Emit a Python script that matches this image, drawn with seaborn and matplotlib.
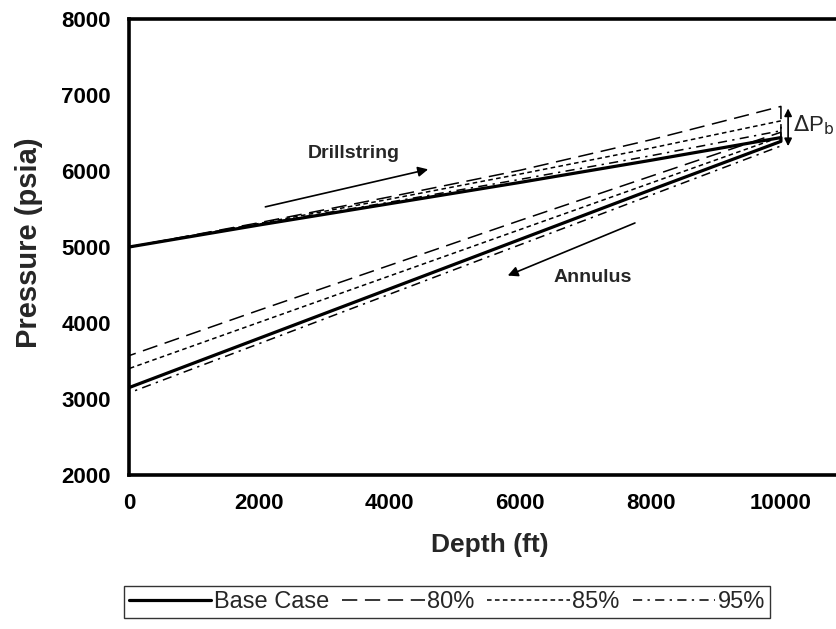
import numpy as np
import pandas as pd
import matplotlib
matplotlib.use("Agg")
import matplotlib.pyplot as plt
import seaborn as sns

# depth stations (ft), drillstring goes down, annulus comes back up
depth = [0, 2000, 4000, 6000, 8000, 10000]

base_drill = [5000, 5290, 5570, 5850, 6140, 6440]
base_ann = [3150, 3800, 4450, 5100, 5750, 6390]
p80_drill = [5000, 5320, 5660, 6010, 6410, 6850]
p80_ann = [3570, 4170, 4760, 5350, 5930, 6510]
p85_drill = [5000, 5310, 5630, 5960, 6300, 6660]
p85_ann = [3400, 4010, 4620, 5230, 5840, 6450]
p95_drill = [5000, 5300, 5590, 5890, 6200, 6530]
p95_ann = [3080, 3730, 4380, 5030, 5680, 6330]

cases = ["Base Case", "80%", "85%", "95%"]
drill = [base_drill, p80_drill, p85_drill, p95_drill]
ann = [base_ann, p80_ann, p85_ann, p95_ann]

rows = []
for case, d, a in zip(cases, drill, ann):
    path_x = depth + depth[::-1]
    path_y = d + a[::-1]
    for i, (x, y) in enumerate(zip(path_x, path_y)):
        rows.append({"case": case, "step": i, "Depth (ft)": x, "Pressure (psia)": y})
df = pd.DataFrame(rows)

sns.set_style("white")
plt.rcParams["font.family"] = ["Liberation Sans", "DejaVu Sans"]

fig = plt.figure(figsize=(8.37, 6.29), dpi=100)
ax = fig.add_axes([129 / 837, 1 - 475 / 629, 1 - 129 / 837, (475 - 19) / 629])

styles = {
    "Base Case": dict(ls="-", lw=2.3),
    "80%": dict(ls=(0, (10, 5)), lw=1.1),
    "85%": dict(ls=(0, (3, 2.2)), lw=1.1),
    "95%": dict(ls=(0, (6, 3.5, 1.5, 3.5)), lw=1.1),
}
for case in cases:
    sub = df[df["case"] == case]
    sns.lineplot(data=sub, x="Depth (ft)", y="Pressure (psia)", sort=False,
                 estimator=None, color="black", ax=ax, label=case,
                 linestyle=styles[case]["ls"], linewidth=styles[case]["lw"])

ax.set_xlim(0, 10860)
ax.set_ylim(2000, 8000)
ax.set_xticks([0, 2000, 4000, 6000, 8000, 10000])
ax.set_yticks([2000, 3000, 4000, 5000, 6000, 7000, 8000])
for side in ["left", "bottom", "top"]:
    ax.spines[side].set_linewidth(2.6)
    ax.spines[side].set_color("black")
ax.spines["right"].set_visible(False)
ax.tick_params(direction="out", length=4, width=1, colors="black", labelsize=16, pad=9)
for lab in ax.get_xticklabels() + ax.get_yticklabels():
    lab.set_fontweight("bold")
ax.set_xlabel("Depth (ft)", fontsize=19, fontweight="bold")
ax.set_ylabel("Pressure (psia)", fontsize=21, fontweight="bold")
ax.xaxis.set_label_coords(0.51, -0.128)
ax.yaxis.set_label_coords(-0.122, 0.51)

# annotations
ax.annotate("", xy=(4630, 6030), xytext=(2050, 5520),
            arrowprops=dict(arrowstyle="-|>", color="black", lw=1.2, mutation_scale=15))
ax.text(3440, 6230, "Drillstring", fontsize=14, fontweight="bold", ha="center", va="center")
ax.annotate("", xy=(5770, 4610), xytext=(7800, 5330),
            arrowprops=dict(arrowstyle="-|>", color="black", lw=1.2, mutation_scale=15))
ax.text(7120, 4600, "Annulus", fontsize=14, fontweight="bold", ha="center", va="center")
ax.annotate("", xy=(10110, 6860), xytext=(10110, 6290),
            arrowprops=dict(arrowstyle="<|-|>", color="black", lw=1.2, mutation_scale=11))
ax.text(10180, 6600, r"$\Delta$P$_\mathrm{b}$", fontsize=16, ha="left", va="center")

ax.get_legend().remove()
handles, labels = ax.get_legend_handles_labels()
leg = fig.legend(handles, labels, loc="center", bbox_to_anchor=(447 / 837, 1 - 602 / 629),
                 ncol=4, frameon=True, fancybox=False, edgecolor="black",
                 handlelength=3.5, handletextpad=0.1, columnspacing=0.55,
                 fontsize=17, borderpad=0.2, borderaxespad=0)
leg.get_frame().set_linewidth(1.0)

fig.savefig("out.png", dpi=100)
